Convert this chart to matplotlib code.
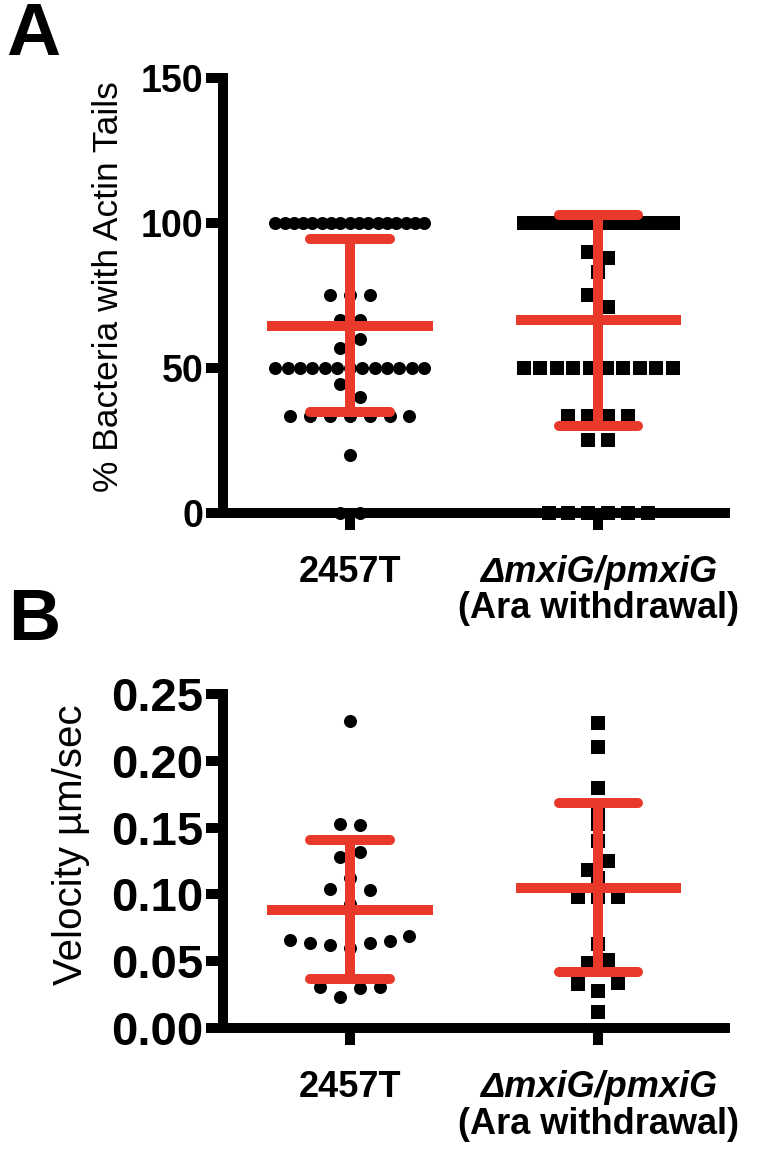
import numpy as np
import matplotlib
matplotlib.use("Agg")
import matplotlib.pyplot as plt

plt.rcParams['font.family'] = ['Liberation Sans', 'DejaVu Sans']

# Panel A: % bacteria with actin tails (one value per field)
tails_wt = [100, 100, 100, 100, 100, 100, 100, 100, 100, 100, 100, 100, 100, 100, 100, 100, 100,
            75, 75, 75,
            66.7, 66.7,
            57, 60,
            50, 50, 50, 50, 50, 50, 50, 50, 50, 50, 50, 50, 50,
            44.4, 40,
            33.3, 33.3, 33.3, 33.3, 33.3, 33.3, 33.3,
            20, 0, 0]
tails_mut = [100, 100, 100, 100, 100, 100, 100, 100, 100, 100, 100, 100, 100, 100, 100, 100, 100,
             100, 100, 100, 100,
             90, 88, 83, 75, 71,
             50, 50, 50, 50, 50, 50, 50, 50, 50, 50,
             33.3, 33.3, 33.3, 33.3,
             25, 25,
             0, 0, 0, 0, 0, 0]

# Panel B: velocity (um/sec)
vel_wt = [0.230, 0.153, 0.152, 0.128, 0.132, 0.104, 0.112, 0.103, 0.093,
          0.066, 0.064, 0.062, 0.060, 0.064, 0.065, 0.069,
          0.031, 0.023, 0.030, 0.031]
vel_mut = [0.228, 0.210, 0.180, 0.163, 0.153, 0.140, 0.118, 0.125, 0.112,
           0.098, 0.098, 0.098, 0.063, 0.049, 0.051, 0.033, 0.028, 0.034, 0.012]

strain_names = ["2457T", "ΔmxiG/pmxiG"]
strain_note = "(Ara withdrawal)"
ticks_a = [0, 50, 100, 150]
ticks_b = [0, 0.05, 0.10, 0.15, 0.20, 0.25]
tick_labels_b = ["0.00", "0.05", "0.10", "0.15", "0.20", "0.25"]

RED = '#e8392b'
LW = 7.2
XSIZE = 26
TICKLEN = 12
XPAD = 18
LINE2 = 26.5   # drop of the second label line, points


def swarm(vals, tol, step=0.08, width=0.6):
    """spread near-equal values sideways, centred on the group"""
    vals = np.asarray(vals, float)
    order = np.argsort(-vals, kind='stable')
    rows = []
    top = None
    for i in order:
        if rows and top - vals[i] <= tol:
            rows[-1].append(i)
        else:
            rows.append([i])
            top = vals[i]
    off = np.zeros(len(vals))
    for r in rows:
        r = sorted(r)
        k = len(r)
        s = step if k == 1 else min(step, width / (k - 1))
        off[r] = (np.arange(k) - (k - 1) / 2) * s
    return off


def panel(ax, data, tol, ticks, tick_labels, ylabel, ysize, lsize):
    for i, (vals, marker) in enumerate(zip(data, ['o', 's'])):
        x = i + 1 + swarm(vals, tol)
        ax.scatter(x, vals, marker=marker, s=88, color='black', linewidths=0,
                   clip_on=False, zorder=3)
        m = np.mean(vals)
        sd = np.std(vals, ddof=1)
        ax.plot([i + 1 - 0.333, i + 1 + 0.333], [m, m], color=RED, lw=LW,
                solid_capstyle='butt', zorder=4)
        ax.plot([i + 1, i + 1], [m - sd, m + sd], color=RED, lw=LW,
                solid_capstyle='butt', zorder=4)
        for y in (m - sd, m + sd):
            ax.plot([i + 1 - 0.16, i + 1 + 0.16], [y, y], color=RED, lw=LW,
                    solid_capstyle='round', zorder=4)
    ax.set_xlim(0.49, 2.51)
    ax.set_ylim(ticks[0], ticks[-1])
    ax.set_yticks(ticks, tick_labels, fontweight='bold', fontsize=ysize)
    ax.set_xticks([1, 2], [strain_names[0], ""], fontweight='bold', fontsize=XSIZE)
    # second group: italic genotype on line 1, plain note on line 2
    for txt, drop, style in [(strain_names[1], 0, 'italic'),
                             (strain_note, LINE2, 'normal')]:
        ax.annotate(txt, xy=(2, 0), xycoords=('data', 'axes fraction'),
                    xytext=(0, -(TICKLEN + XPAD + drop)), textcoords='offset points',
                    ha='center', va='top', fontsize=XSIZE, fontweight='bold',
                    fontstyle=style, annotation_clip=False)
    for s in ['top', 'right']:
        ax.spines[s].set_visible(False)
    for s in ['left', 'bottom']:
        ax.spines[s].set_linewidth(LW)
        ax.spines[s].set_capstyle('projecting')
    ax.tick_params(width=LW, length=TICKLEN)
    ax.tick_params(axis='x', pad=XPAD)
    ax.tick_params(axis='y', pad=2)
    ax.set_ylabel(ylabel, fontsize=lsize)


fig = plt.figure(figsize=(7.63, 11.52), dpi=100)
axA = fig.add_axes([0.2923, 0.5547, 0.658, 0.3776])
axB = fig.add_axes([0.2923, 0.1076, 0.658, 0.290])

panel(axA, [tails_wt, tails_mut], 4.5, ticks_a, [str(t) for t in ticks_a],
      "% Bacteria with Actin Tails", 27, 25.5)
panel(axB, [vel_wt, vel_mut], 0.0095, ticks_b, tick_labels_b,
      "Velocity µm/sec", 34, 29)
axA.yaxis.set_label_coords(-0.195, 0.52)
axB.yaxis.set_label_coords(-0.265, 0.55)

fig.text(0.008, 1 - 55 / 1152, "A", fontsize=54, fontweight='bold', va='baseline')
fig.text(0.010, 1 - 640 / 1152, "B", fontsize=52, fontweight='bold', va='baseline')

fig.savefig("out.png", dpi=100)
